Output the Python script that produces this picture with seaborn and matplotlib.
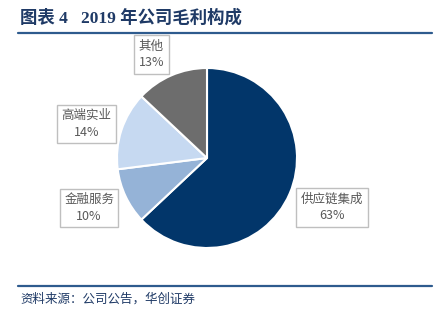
import matplotlib
matplotlib.use("Agg")
import matplotlib.pyplot as plt
import seaborn as sns

categories = ["供应链集成", "金融服务", "高端实业", "其他"]
values = [63, 10, 14, 13]
pct_labels = ["63%", "10%", "14%", "13%"]
colors = ["#02366A", "#95B3D7", "#C6D9F1", "#6D6D6D"]

sns.set_theme(style="white")
plt.rcParams['font.family'] = ['Noto Sans CJK SC', 'DejaVu Sans']

W, H = 443, 327
fig = plt.figure(figsize=(W / 100, H / 100), dpi=100)
fig.patch.set_facecolor("white")

cx, cy, r = 207, 158, 90
ax = fig.add_axes([(cx - r) / W, (H - cy - r) / H, 2 * r / W, 2 * r / H])
ax.pie(values, colors=colors, startangle=90, counterclock=False,
       wedgeprops=dict(edgecolor="white", linewidth=1.5))
ax.set_xlim(-1, 1)
ax.set_ylim(-1, 1)
ax.set_aspect("equal")
ax.axis("off")

label_pos = [(1.39, -0.55), (-1.31, -0.556), (-1.339, 0.378), (-0.617, 1.15)]
for cat, pl, (lx, ly) in zip(categories, pct_labels, label_pos):
    ax.text(lx, ly, f"{cat}\n{pl}", ha="center", va="center", fontsize=9,
            color="#595959", linespacing=1.35, clip_on=False,
            family=['Noto Sans CJK SC', 'DejaVu Sans'],
            bbox=dict(boxstyle="square,pad=0.35", facecolor="white",
                      edgecolor="#BFBFBF", linewidth=1.0))

# Title
fig.text(20 / W, 1 - 18 / H, "图表 4   2019 年公司毛利构成", ha="left", va="center",
         fontsize=12.5, fontweight="bold", color="#1F3A66",
         family=['Liberation Serif', 'Noto Sans CJK SC'])
fig.add_artist(plt.Line2D([18 / W, 432 / W], [1 - 33 / H, 1 - 33 / H],
                          color="#2E5B8E", linewidth=1.6, transform=fig.transFigure))
fig.add_artist(plt.Line2D([18 / W, 432 / W], [1 - 286 / H, 1 - 286 / H],
                          color="#2E5B8E", linewidth=1.6, transform=fig.transFigure))
fig.text(20 / W, 1 - 299 / H, "资料来源：公司公告，华创证券", ha="left", va="center",
         fontsize=9, style="italic", color="#1F3A66",
         family=['Noto Sans CJK SC', 'DejaVu Sans'])

fig.savefig("out.png", dpi=100)
